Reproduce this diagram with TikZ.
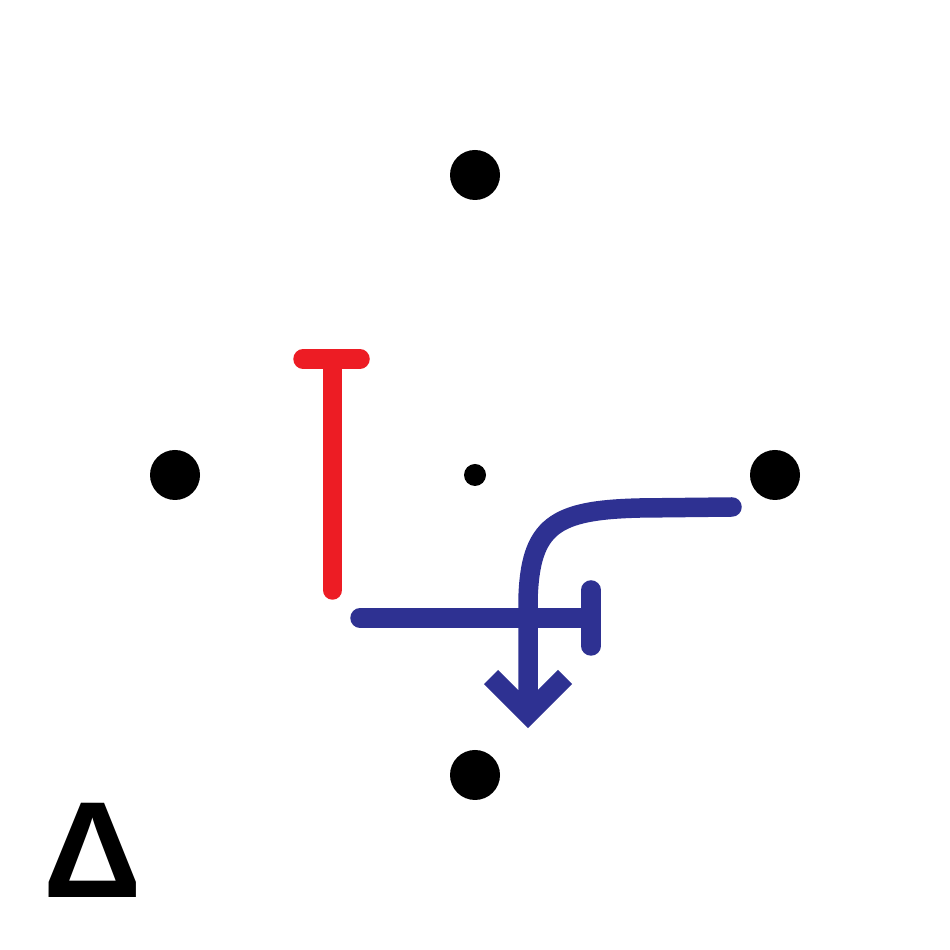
\documentclass[tikz,border=0pt]{standalone}
\usepackage{fontspec}
\usepackage{tikz}
\usetikzlibrary{positioning}
\newfontfamily\deltafont{Liberation Sans}
\definecolor{strandred}{HTML}{ED1C24}
\definecolor{strandblue}{HTML}{2E3192}

\begin{document}
\begin{tikzpicture}[
    node distance=3cm,
    on grid,
    dot/.style={
        circle,
        fill=black,
        inner sep=0pt,
        minimum size=0.5cm
    },
    smalldot/.style={
        circle,
        fill=black,
        inner sep=0pt,
        minimum size=0.22cm
    },
    strand/.style={
        line width=0.195cm,
        line cap=round
    },
    head/.style={
        line width=0.2cm,
        line cap=butt,
        line join=miter
    }
]
    \useasboundingbox (0,0) rectangle (9.5,9.5);

    \node [smalldot] (mid) at (4.75,4.75) {};
    \node [dot, above=of mid] (north) {};
    \node [dot, left=of mid] (west) {};
    \node [dot, right=of mid] (east) {};
    \node [dot, below=of mid] (south) {};

    % red strand
    \coordinate (redtop) at (3.325,5.91);
    \coordinate (redbot) at (3.325,3.60);
    \coordinate (redbarl) at (3.03,5.91);
    \coordinate (redbarr) at (3.60,5.91);
    \draw [strand, strandred] (redbot) -- (redtop);
    \draw [strand, strandred] (redbarl) -- (redbarr);

    % blue strands
    \coordinate (bluel) at (3.60,3.32);
    \coordinate (bluer) at (5.91,3.32);
    \coordinate (bluebart) at (5.91,3.60);
    \coordinate (bluebarb) at (5.91,3.04);
    \draw [strand, strandblue] (bluel) -- (bluer);
    \draw [strand, strandblue] (bluebart) -- (bluebarb);

    \coordinate (curvestart) at (7.32,4.43);
    \coordinate (curvetip) at (5.28,2.36);
    \draw [strand, strandblue] (curvestart) -- (6.4,4.42)
        .. controls (5.55,4.40) and (5.30,4.25) .. (5.28,3.5) -- ([yshift=0.1cm]curvetip);
    \draw [head, strandblue] (4.91,2.73) -- (curvetip) -- (5.65,2.73);
    \draw [line width=0.2cm, strandblue] (5.28,2.6) -- (curvetip);

    \node [font=\deltafont\bfseries\fontsize{39}{41}\selectfont, inner sep=0pt] (delta) at (0.93,1.0) {Δ};

\end{tikzpicture}
\end{document}
